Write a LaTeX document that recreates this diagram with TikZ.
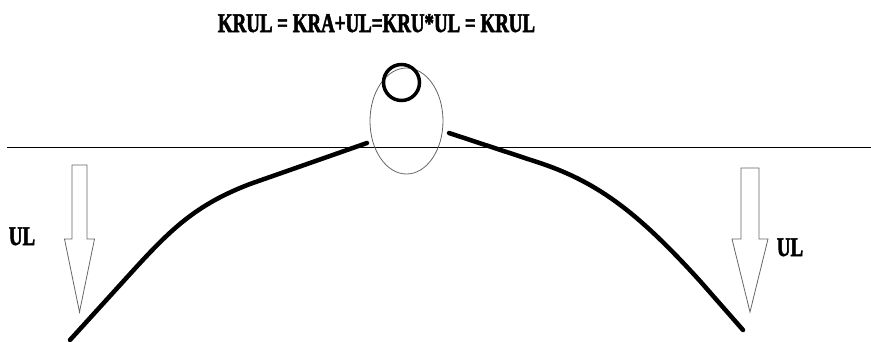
\documentclass[tikz,border=0pt]{standalone}
\usepackage{fontspec}
\setmainfont{Liberation Serif}
\newfontfamily\condserif[FakeStretch=0.7,FakeBold=2]{Liberation Serif Bold}
\usepackage{tikz}

\begin{document}
\begin{tikzpicture}[x=1pt,y=-1pt,font=\condserif\fontsize{27}{27}\selectfont,
    branch/.style={line width=4.5pt,line cap=round},
    loadarrow/.style={draw=black!60,line width=0.8pt}]
  \useasboundingbox (0,0) rectangle (871,341);
  % title
  \node[anchor=base] (eqn) at (376.5,32) {KRUL = KRA+UL=KRU*UL = KRUL};
  % reference level
  \draw[line width=1pt] (7,147) -- (871,147);
  % joint with ball on top
  \draw[black!60,line width=0.8pt] (406.5,121) ellipse [x radius=36.5pt,y radius=53pt];
  \draw[line width=3.5pt] (401.5,82.5) circle (18pt);
  % the two bent branches
  \draw[branch] (70,340) -- (130,274) .. controls (170,230) and (195,205) .. (250,184) -- (367,143);
  \draw[branch] (449,133) -- (540,163) .. controls (600,183) and (640,215) .. (700,281) -- (743,330);
  % load arrows
  \foreach \cx/\top/\sw in {79.5/165/7.5,750/168/9}
    \draw[loadarrow] (\cx-\sw,\top) -- (\cx+\sw,\top) -- (\cx+\sw,239) -- (\cx+2*\sw,239)
      -- (\cx,312) -- (\cx-2*\sw,239) -- (\cx-\sw,239) -- cycle;
  \node[anchor=base] (ulleft) at (22,245) {UL};
  \node[anchor=base] (ulright) at (790,256) {UL};
\end{tikzpicture}
\end{document}
